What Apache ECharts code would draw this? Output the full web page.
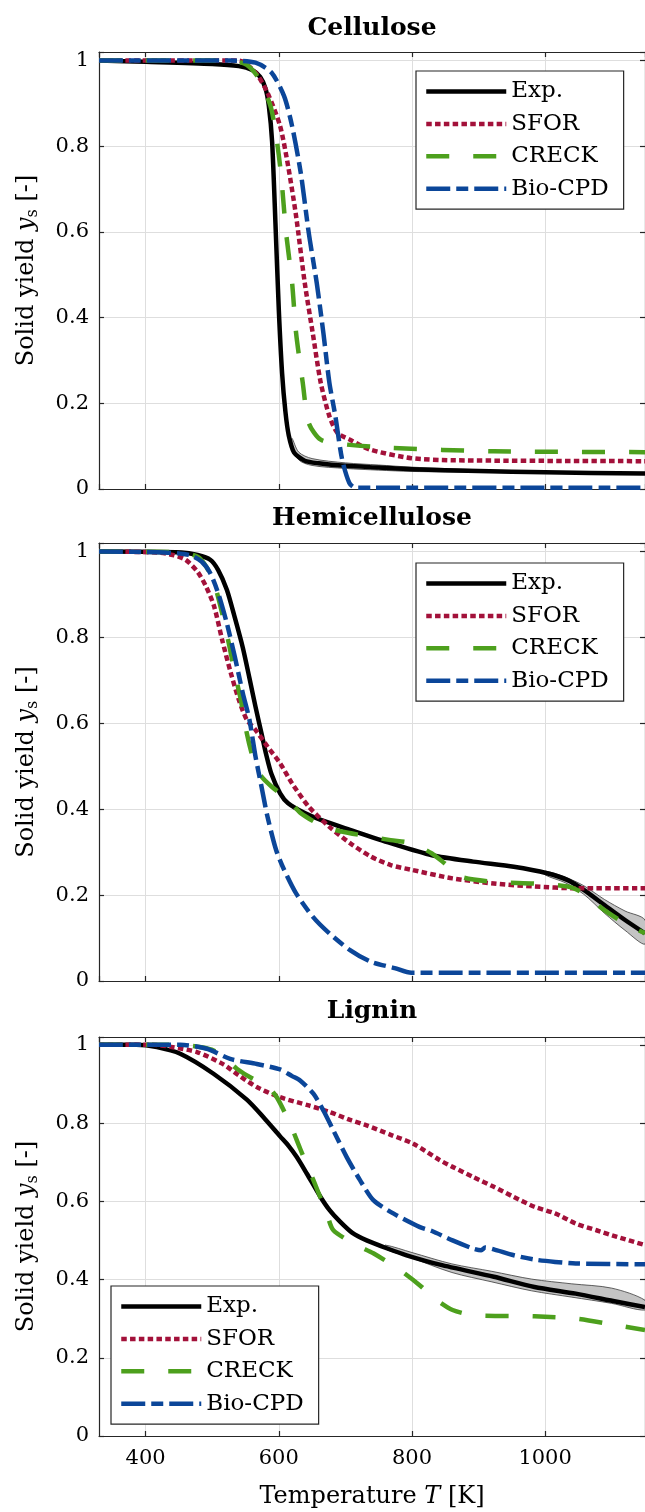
<!DOCTYPE html>
<html>
<head>
<meta charset="utf-8">
<script src="https://cdn.jsdelivr.net/npm/echarts@6/dist/echarts.min.js"></script>
<style>
html, body { margin: 0; padding: 0; background: #fff; }
#chart { width: 645px; height: 1512px; }
</style>
</head>
<body>
<div id="chart"></div>
<script>
// panel titles and legend entries
var panelNames = ['Cellulose', 'Hemicellulose', 'Lignin'];
var seriesNames = ['Exp.', 'SFOR', 'CRECK', 'Bio-CPD'];

// [temperature K, solid yield]
var celluloseExp = [[330,1.0],[400,0.997],[500,0.992],[540,0.987],[560,0.978],[572,0.962],[580,0.935],[585,0.895],[590,0.81],[595,0.62],[600,0.42],[605,0.27],[610,0.18],[615,0.125],[623,0.085],[639,0.066],[660,0.06],[700,0.054],[750,0.05],[800,0.046],[900,0.042],[1000,0.039],[1150,0.036]];
var celluloseSFOR = [[330,1.0],[540,1.0],[565,0.972],[583,0.925],[602,0.847],[614,0.754],[626,0.637],[639,0.481],[651,0.364],[663,0.248],[676,0.17],[688,0.131],[707,0.115],[737,0.092],[799,0.072],[861,0.067],[1150,0.065]];
var celluloseCRECK = [[330,1.0],[528,1.0],[552,0.99],[571,0.956],[589,0.886],[602,0.754],[611,0.598],[620,0.481],[626,0.364],[636,0.248],[645,0.154],[663,0.115],[694,0.105],[768,0.096],[922,0.088],[1150,0.086]];
var celluloseBio = [[330,1.0],[528,1.0],[565,0.995],[589,0.972],[608,0.917],[620,0.847],[633,0.738],[645,0.598],[657,0.481],[667,0.364],[676,0.248],[685,0.17],[695,0.07],[706,0.014],[715,0.003],[1150,0.003]];
// [temperature, lower, upper] of the experimental spread
var celluloseBand = [[620,0.104,0.118],[630,0.068,0.086],[650,0.055,0.071],[700,0.048,0.061],[750,0.044,0.056],[800,0.041,0.051],[900,0.039,0.045],[1000,0.037,0.041],[1150,0.034,0.038]];

var hemiExp = [[330,1.0],[454,0.998],[478,0.992],[497,0.981],[509,0.957],[522,0.911],[534,0.846],[546,0.776],[556,0.705],[565,0.639],[574,0.577],[581,0.528],[589,0.482],[602,0.437],[614,0.414],[639,0.391],[663,0.375],[707,0.352],[768,0.321],[830,0.293],[892,0.278],[953,0.266],[1003,0.251],[1034,0.235],[1058,0.212],[1089,0.177],[1120,0.142],[1150,0.111]];
var hemiSFOR = [[330,1.0],[417,0.998],[441,0.992],[460,0.981],[478,0.953],[491,0.918],[503,0.872],[515,0.794],[528,0.717],[540,0.655],[552,0.608],[565,0.585],[583,0.546],[602,0.507],[620,0.46],[645,0.406],[676,0.359],[707,0.321],[738,0.29],[768,0.27],[799,0.259],[861,0.239],[923,0.227],[984,0.22],[1046,0.216],[1150,0.216]];
var hemiCRECK = [[330,1.0],[454,0.998],[478,0.988],[491,0.965],[503,0.926],[515,0.856],[525,0.786],[534,0.717],[543,0.655],[552,0.577],[562,0.515],[574,0.476],[589,0.453],[614,0.422],[633,0.391],[663,0.363],[694,0.348],[738,0.336],[768,0.328],[799,0.321],[830,0.297],[849,0.274],[873,0.243],[923,0.231],[984,0.227],[1034,0.22],[1058,0.204],[1089,0.165],[1120,0.134],[1150,0.111]];
var hemiBio = [[330,1.0],[429,0.998],[466,0.992],[484,0.977],[497,0.95],[509,0.903],[522,0.833],[534,0.755],[546,0.67],[556,0.608],[565,0.523],[574,0.453],[583,0.383],[596,0.305],[608,0.259],[626,0.204],[651,0.15],[676,0.111],[707,0.072],[738,0.045],[774,0.03],[799,0.019],[1150,0.019]];
var hemiBand = [[1000,0.247,0.256],[1030,0.229,0.242],[1058,0.202,0.222],[1089,0.158,0.19],[1120,0.118,0.163],[1150,0.086,0.142]];

var ligninExp = [[330,1.0],[386,1.0],[417,0.994],[452,0.977],[502,0.926],[552,0.86],[577,0.815],[602,0.766],[615,0.741],[627,0.713],[642,0.671],[662,0.613],[676,0.578],[692,0.548],[710,0.52],[732,0.5],[762,0.48],[792,0.462],[842,0.438],[923,0.407],[984,0.381],[1046,0.364],[1108,0.343],[1150,0.33]];
var ligninSFOR = [[330,1.0],[411,1.0],[441,0.994],[478,0.981],[517,0.95],[540,0.922],[567,0.892],[602,0.866],[645,0.845],[677,0.828],[707,0.808],[732,0.794],[768,0.77],[802,0.747],[842,0.705],[861,0.688],[892,0.662],[923,0.637],[953,0.611],[984,0.586],[1015,0.569],[1046,0.543],[1077,0.526],[1108,0.509],[1150,0.488]];
var ligninCRECK = [[330,1.0],[452,1.0],[484,0.994],[503,0.985],[517,0.968],[537,0.939],[559,0.915],[582,0.896],[597,0.866],[617,0.798],[632,0.735],[652,0.654],[672,0.569],[682,0.526],[717,0.488],[742,0.467],[782,0.424],[812,0.385],[835,0.35],[861,0.322],[892,0.309],[984,0.306],[1046,0.3],[1108,0.283],[1150,0.271]];
var ligninBio = [[330,1.0],[452,1.0],[492,0.99],[527,0.964],[567,0.951],[602,0.937],[620,0.92],[632,0.909],[652,0.875],[667,0.832],[682,0.781],[702,0.713],[722,0.654],[742,0.603],[772,0.569],[812,0.534],[830,0.524],[861,0.5],[892,0.479],[904,0.475],[910,0.482],[923,0.477],[953,0.462],[984,0.451],[1015,0.445],[1046,0.441],[1150,0.439]];
var ligninBand = [[760,0.478,0.488],[800,0.455,0.469],[860,0.418,0.44],[920,0.394,0.421],[980,0.371,0.401],[1040,0.355,0.389],[1100,0.339,0.378],[1150,0.322,0.347]];

var panelData = [
  [celluloseExp, celluloseSFOR, celluloseCRECK, celluloseBio],
  [hemiExp, hemiSFOR, hemiCRECK, hemiBio],
  [ligninExp, ligninSFOR, ligninCRECK, ligninBio]
];
var panelBands = [celluloseBand, hemiBand, ligninBand];

var FONT = 'DejaVu Serif';
var AXIS_COLOR = '#262626';
var lineStyles = [
  { color: '#000000', type: 'solid' },
  { color: '#A3113A', type: [5.5, 3.3] },
  { color: '#4DA01D', type: [23, 24] },
  { color: '#0B4699', type: [24, 6, 12, 6] }
];

var grids = [
  { left: 99, top: 52, width: 547, height: 437 },
  { left: 99, top: 543, width: 547, height: 438 },
  { left: 99, top: 1037, width: 547, height: 399 }
];
var legendPos = [
  { left: 416, top: 71 },
  { left: 416, top: 563 },
  { left: 111, top: 1286 }
];
var titleY = [28, 518, 1011];

var xAxes = [], yAxes = [], series = [], legends = [], graphics = [];

function yLabel(v) {
  var k = Math.round(v * 5);
  return Math.abs(v * 5 - k) < 1e-6 ? String(k / 5) : '';
}

for (var side = 0; side < 2; side++) {
  for (var p = 0; p < 3; p++) {
    var main = side === 0;
    xAxes.push({
      type: 'value', gridIndex: p, position: main ? 'bottom' : 'top',
      min: 330, max: 1150, splitNumber: 5,
      axisLine: { show: true, onZero: false, lineStyle: { color: AXIS_COLOR, width: 1.2 } },
      axisTick: { show: true, inside: true, length: 5, lineStyle: { color: AXIS_COLOR, width: 1.2 } },
      axisLabel: { show: main && p === 2, showMinLabel: false, showMaxLabel: false, color: '#000', fontFamily: FONT, fontSize: 21, margin: 12,
        formatter: function (v) { return String(v); } },
      splitLine: { show: main, lineStyle: { color: '#dedede', width: 1 } },
      name: main && p === 2 ? '{a|Temperature }{i|T}{a| [K]}' : '',
      nameLocation: 'middle', nameGap: 49,
      nameTextStyle: { rich: {
        a: { fontFamily: FONT, fontSize: 24, color: '#000' },
        i: { fontFamily: FONT, fontSize: 24, fontStyle: 'italic', color: '#000' }
      } }
    });
    yAxes.push({
      type: 'value', gridIndex: p, position: main ? 'left' : 'right',
      min: 0, max: 1.02, interval: 0.2,
      axisLine: { show: true, lineStyle: { color: AXIS_COLOR, width: 1.2 } },
      axisTick: { show: true, inside: true, length: 5, lineStyle: { color: AXIS_COLOR, width: 1.2 } },
      axisLabel: { show: main, color: '#000', fontFamily: FONT, fontSize: 21, margin: 10, formatter: yLabel },
      splitLine: { show: main, lineStyle: { color: '#dedede', width: 1 } },
      name: main ? '{a|Solid yield }{i|y}{s|s}{a| [-]}' : '',
      nameLocation: 'middle', nameGap: 58,
      nameTextStyle: { rich: {
        a: { fontFamily: FONT, fontSize: 24, color: '#000' },
        i: { fontFamily: FONT, fontSize: 24, fontStyle: 'italic', color: '#000' },
        s: { fontFamily: FONT, fontSize: 16, color: '#000', padding: [12, 0, 0, 0] }
      } }
    });
  }
}

function bandRenderer(band) {
  return function (params, api) {
    if (params.dataIndex !== 0) return null;
    var pts = [];
    for (var i = 0; i < band.length; i++) pts.push(api.coord([band[i][0], band[i][2]]));
    for (var j = band.length - 1; j >= 0; j--) pts.push(api.coord([band[j][0], band[j][1]]));
    return {
      type: 'polygon', shape: { points: pts, smooth: 0.3 },
      style: { fill: '#c4c4c4', stroke: '#3a3a3a', lineWidth: 0.8 }
    };
  };
}

for (var q = 0; q < 3; q++) {
  series.push({
    type: 'custom', name: 'band' + q, xAxisIndex: q, yAxisIndex: q,
    data: panelBands[q], encode: { x: 0, y: 1 }, silent: true,
    renderItem: bandRenderer(panelBands[q])
  });
  for (var s = 0; s < 4; s++) {
    series.push({
      type: 'line', name: seriesNames[s], xAxisIndex: q, yAxisIndex: q,
      data: panelData[q][s], symbol: 'none', smooth: 0.25,
      silent: true, animation: false,
      lineStyle: { color: lineStyles[s].color, type: lineStyles[s].type, width: 4.5, cap: 'butt', join: 'round' },
      itemStyle: { color: lineStyles[s].color }
    });
  }
  legends.push({
    orient: 'vertical', left: legendPos[q].left, top: legendPos[q].top,
    data: seriesNames, selectedMode: false,
    itemWidth: 80, itemHeight: 14, itemGap: 9.4,
    padding: [9, 15, 9, 8],
    backgroundColor: '#fff', borderColor: AXIS_COLOR, borderWidth: 1.2,
    textStyle: { fontFamily: FONT, fontSize: 23, color: '#000' },
    lineStyle: { width: 4.5 },
    itemStyle: { opacity: 0 }
  });
  graphics.push({
    type: 'text', x: 372, y: titleY[q],
    style: { text: panelNames[q], font: 'bold 25px "DejaVu Serif"', fill: '#000', align: 'center', verticalAlign: 'middle' }
  });
}

var chart = echarts.init(document.getElementById('chart'), null, { renderer: 'canvas' });
chart.setOption({
  animation: false,
  backgroundColor: '#fff',
  grid: grids,
  xAxis: xAxes,
  yAxis: yAxes,
  legend: legends,
  graphic: graphics,
  series: series
});
</script>
</body>
</html>
